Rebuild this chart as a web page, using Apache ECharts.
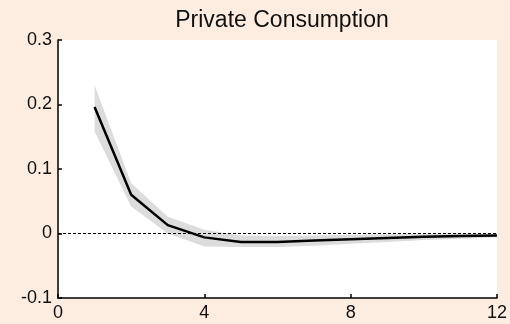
<!DOCTYPE html>
<html>
<head>
<meta charset="utf-8">
<script src="https://cdn.jsdelivr.net/npm/echarts@6/dist/echarts.min.js"></script>
<style>
  html, body { margin: 0; padding: 0; background: #fcede0; }
  #chart { width: 510px; height: 324px; }
</style>
</head>
<body>
<div id="chart"></div>
<script>
// Impulse response of private consumption with confidence band
const horizons = [1, 2, 3, 4, 5, 6, 7, 8, 9, 10, 11, 12];
const response = [0.196, 0.060, 0.013, -0.006, -0.013, -0.013, -0.011, -0.009, -0.007, -0.005, -0.004, -0.003];
const bandUpper = [0.230, 0.078, 0.026, 0.006, -0.003, -0.004, -0.003, -0.002, -0.001, -0.0005, 0.000, 0.000];
const bandLower = [0.158, 0.042, 0.000, -0.020, -0.021, -0.021, -0.019, -0.016, -0.013, -0.010, -0.008, -0.006];
const xTicks = [0, 4, 8, 12];
const yTicks = [-0.1, 0, 0.1, 0.2, 0.3];

const chart = echarts.init(document.getElementById('chart'), null, { renderer: 'canvas' });

const bandPoints = horizons.map((h, i) => [h, bandUpper[i], bandLower[i]]);

const fontFamily = 'Liberation Sans, Arial, Helvetica, sans-serif';

chart.setOption({
  backgroundColor: '#fcede0',
  animation: false,
  title: {
    text: 'Private Consumption',
    left: 277,
    textAlign: 'center',
    top: 4,
    textStyle: { fontFamily, fontSize: 23, fontWeight: 'normal', color: '#111' }
  },
  grid: {
    left: 58, right: 9, top: 40, bottom: 26,
    show: true, backgroundColor: '#ffffff', borderWidth: 0
  },
  xAxis: {
    type: 'value',
    min: xTicks[0], max: xTicks[xTicks.length - 1], interval: 4,
    axisLine: { show: true, onZero: false, lineStyle: { color: '#000', width: 1.5 } },
    axisTick: { show: true, inside: true, length: 4, lineStyle: { color: '#000', width: 1.5 } },
    axisLabel: { color: '#111', fontFamily, fontSize: 18, margin: 6 },
    splitLine: { show: false }
  },
  yAxis: {
    type: 'value',
    min: yTicks[0], max: yTicks[yTicks.length - 1], interval: 0.1,
    axisLine: { show: true, onZero: false, lineStyle: { color: '#000', width: 1.5 } },
    axisTick: { show: true, inside: true, length: 4, lineStyle: { color: '#000', width: 1.5 } },
    axisLabel: {
      color: '#111', fontFamily, fontSize: 18, margin: 6,
      formatter: v => String(Math.round(v * 10) / 10)
    },
    splitLine: { show: false }
  },
  series: [
    {
      // shaded confidence band
      type: 'custom',
      data: bandPoints,
      renderItem: function (params, api) {
        if (params.dataIndex !== 0) return null;
        const upper = bandPoints.map(p => api.coord([p[0], p[1]]));
        const lower = bandPoints.map(p => api.coord([p[0], p[2]])).reverse();
        return {
          type: 'polygon',
          shape: { points: upper.concat(lower) },
          style: { fill: '#dcdcdc' }
        };
      },
      encode: { x: 0, y: [1, 2] },
      silent: true,
      z: 1
    },
    {
      // zero reference line
      type: 'line',
      data: [[xTicks[0], 0], [xTicks[xTicks.length - 1], 0]],
      symbol: 'none',
      lineStyle: { color: '#000', width: 1, type: [3, 2] },
      silent: true,
      z: 2
    },
    {
      type: 'line',
      data: horizons.map((h, i) => [h, response[i]]),
      symbol: 'none',
      lineStyle: { color: '#000', width: 2.5 },
      silent: true,
      z: 3
    }
  ]
});
</script>
</body>
</html>
